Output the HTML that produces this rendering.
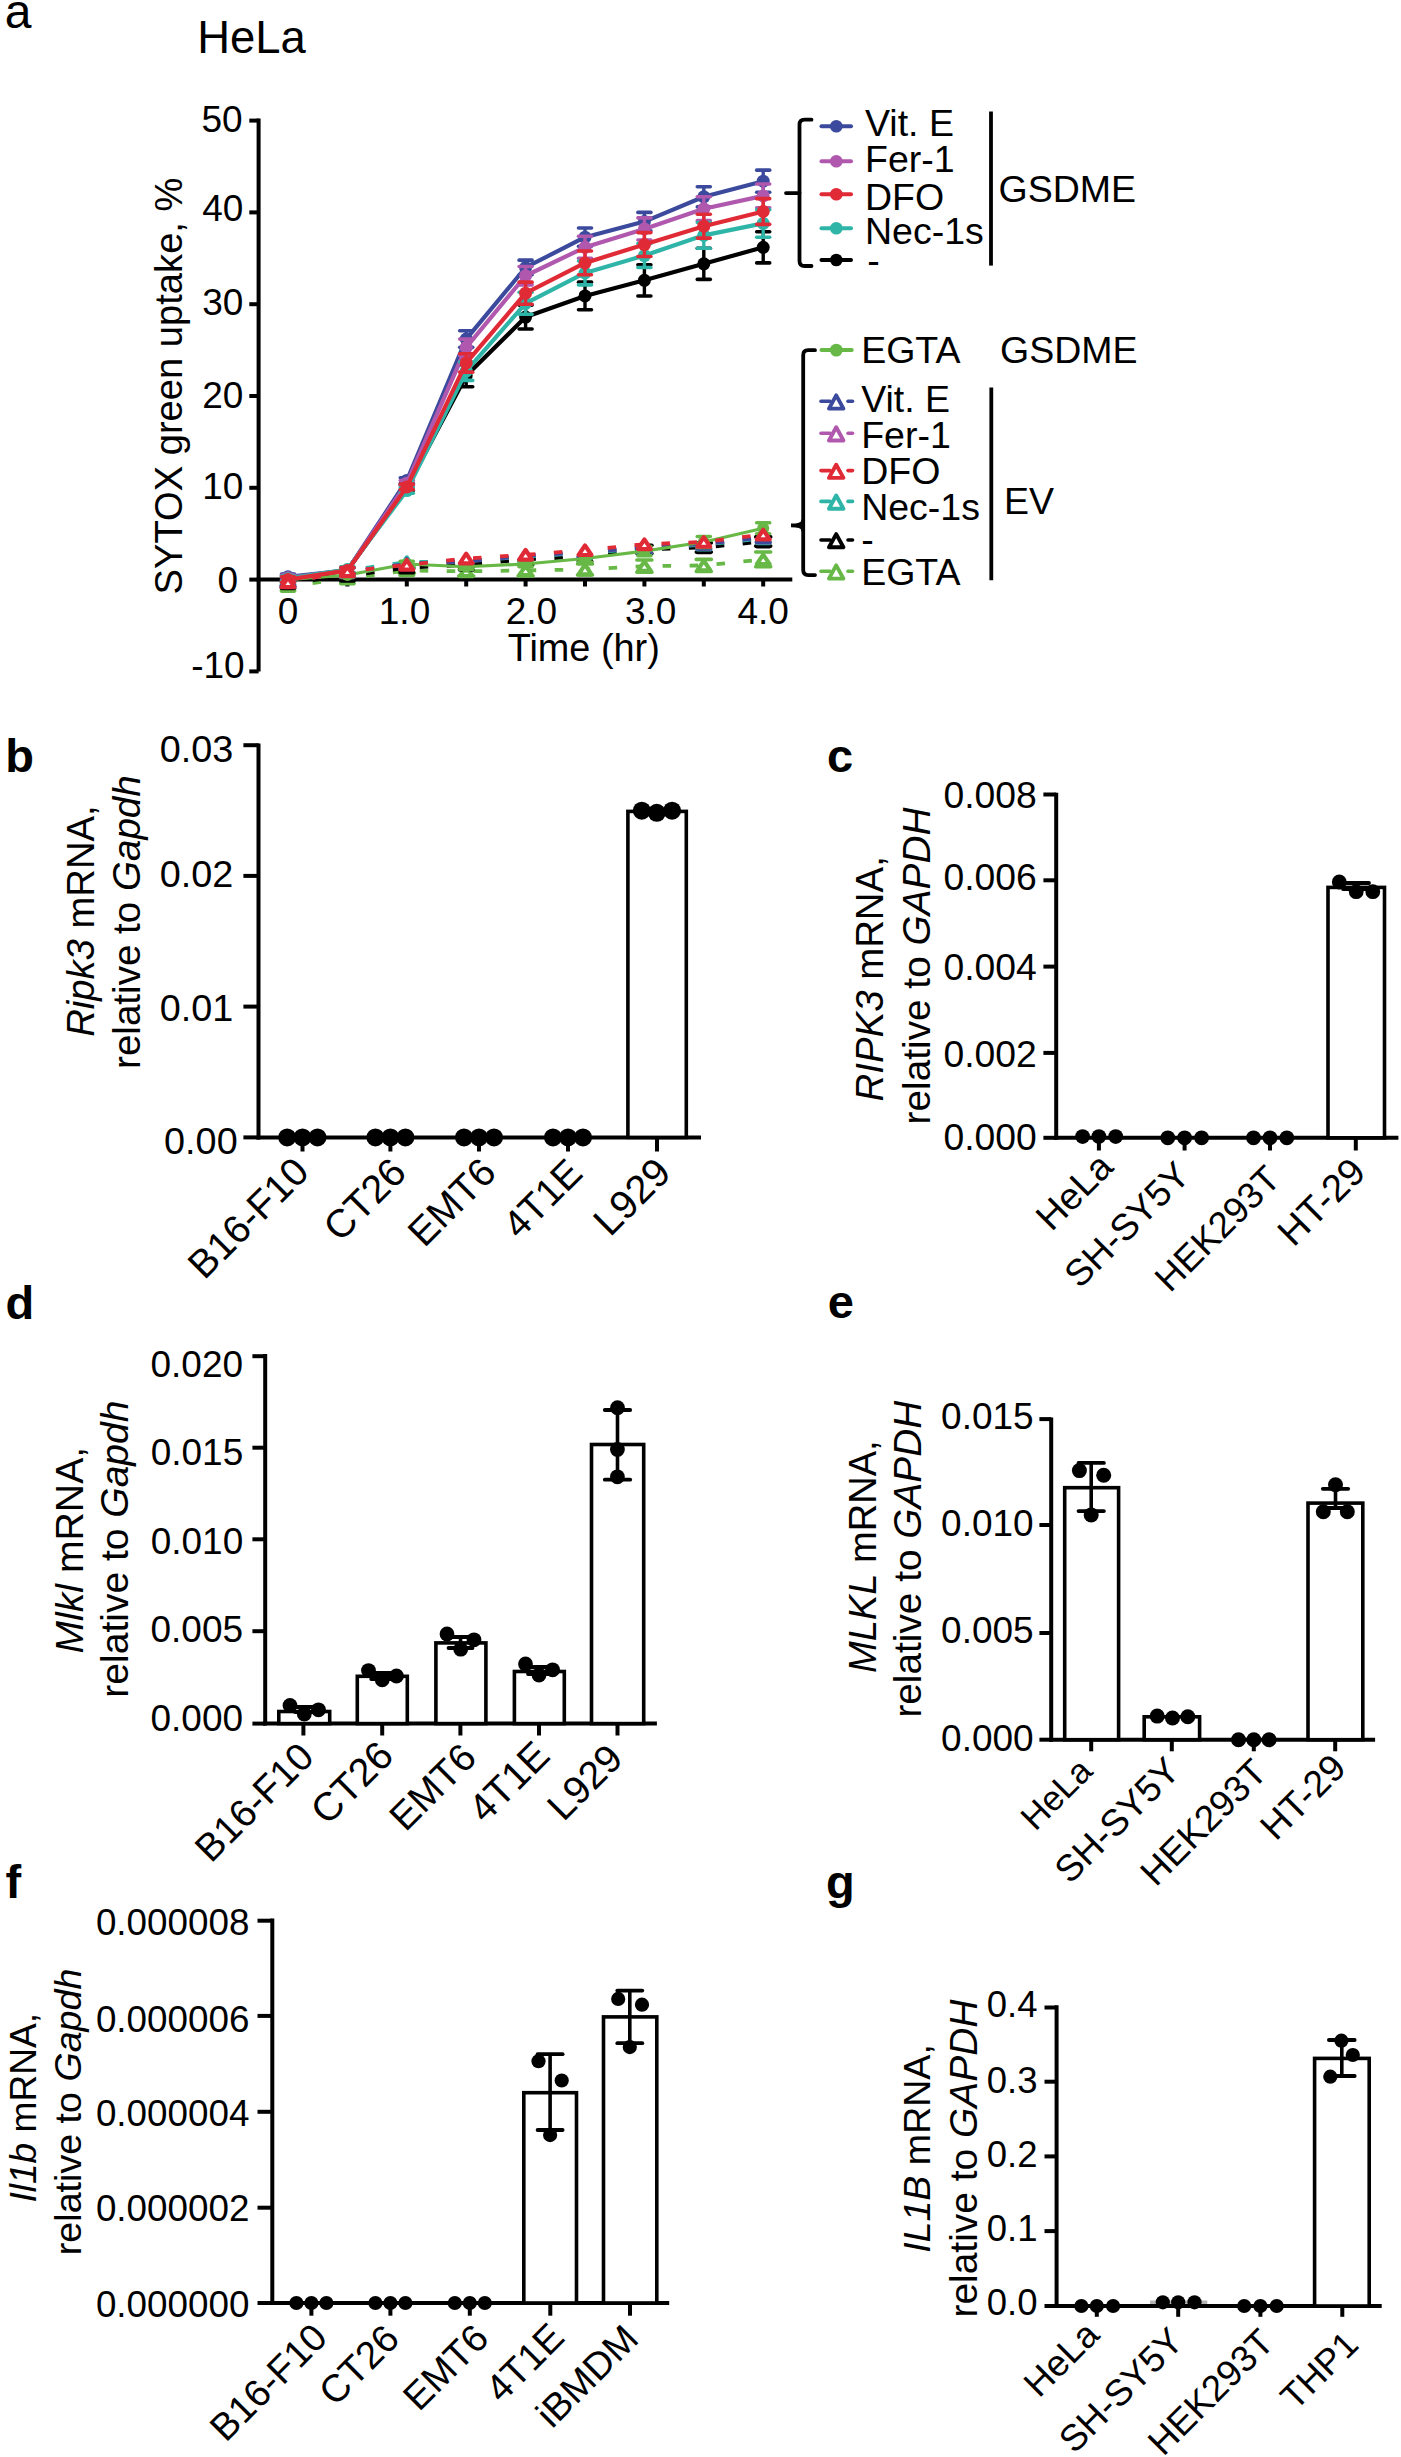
<!DOCTYPE html>
<html><head><meta charset="utf-8"><style>
html,body{margin:0;padding:0;background:#fff;}
svg{display:block;}
text{font-family:"Liberation Sans", sans-serif;}
</style></head><body>
<svg width="1401" height="2457" viewBox="0 0 1401 2457" font-family='"Liberation Sans", sans-serif'>
<rect width="1401" height="2457" fill="#fff"/>
<text id="La" x="4.75" y="28.25" font-size="48">a</text>
<text id="HeLa" x="197.25" y="53.25" font-size="45.41">HeLa</text>
<line x1="258.6" y1="118.6" x2="258.6" y2="671.6" stroke="#000" stroke-width="4.0" stroke-linecap="butt"/>
<line x1="249.3" y1="120.6" x2="258.6" y2="120.6" stroke="#000" stroke-width="4.0" stroke-linecap="butt"/>
<line x1="249.3" y1="212.4" x2="258.6" y2="212.4" stroke="#000" stroke-width="4.0" stroke-linecap="butt"/>
<line x1="249.3" y1="304.2" x2="258.6" y2="304.2" stroke="#000" stroke-width="4.0" stroke-linecap="butt"/>
<line x1="249.3" y1="396" x2="258.6" y2="396" stroke="#000" stroke-width="4.0" stroke-linecap="butt"/>
<line x1="249.3" y1="487.8" x2="258.6" y2="487.8" stroke="#000" stroke-width="4.0" stroke-linecap="butt"/>
<line x1="249.3" y1="579.6" x2="258.6" y2="579.6" stroke="#000" stroke-width="4.0" stroke-linecap="butt"/>
<line x1="249.3" y1="671.4" x2="258.6" y2="671.4" stroke="#000" stroke-width="4.0" stroke-linecap="butt"/>
<text id="ay50" x="242.7" y="132.4" font-size="37" text-anchor="end">50</text>
<text id="ay40" x="243.3" y="220.5" font-size="37" text-anchor="end">40</text>
<text id="ay30" x="243.3" y="314.7" font-size="37" text-anchor="end">30</text>
<text id="ay20" x="243.3" y="407.9" font-size="37" text-anchor="end">20</text>
<text id="ay10" x="243.3" y="498.5" font-size="37" text-anchor="end">10</text>
<text id="ay0" x="238.1" y="592.7" font-size="37" text-anchor="end">0</text>
<text id="ay-10" x="244.7" y="677.9" font-size="37" text-anchor="end">-10</text>
<line x1="256.6" y1="579.6" x2="792.3" y2="579.6" stroke="#000" stroke-width="4.0" stroke-linecap="butt"/>
<line x1="288" y1="579.6" x2="288" y2="586.5" stroke="#000" stroke-width="4.0" stroke-linecap="butt"/>
<line x1="347.4" y1="579.6" x2="347.4" y2="586.5" stroke="#000" stroke-width="4.0" stroke-linecap="butt"/>
<line x1="406.8" y1="579.6" x2="406.8" y2="586.5" stroke="#000" stroke-width="4.0" stroke-linecap="butt"/>
<line x1="466.2" y1="579.6" x2="466.2" y2="586.5" stroke="#000" stroke-width="4.0" stroke-linecap="butt"/>
<line x1="525.6" y1="579.6" x2="525.6" y2="586.5" stroke="#000" stroke-width="4.0" stroke-linecap="butt"/>
<line x1="585" y1="579.6" x2="585" y2="586.5" stroke="#000" stroke-width="4.0" stroke-linecap="butt"/>
<line x1="644.4" y1="579.6" x2="644.4" y2="586.5" stroke="#000" stroke-width="4.0" stroke-linecap="butt"/>
<line x1="703.8" y1="579.6" x2="703.8" y2="586.5" stroke="#000" stroke-width="4.0" stroke-linecap="butt"/>
<line x1="763.2" y1="579.6" x2="763.2" y2="586.5" stroke="#000" stroke-width="4.0" stroke-linecap="butt"/>
<text id="ax0" x="288" y="624" font-size="37" text-anchor="middle">0</text>
<text id="ax1.0" x="404.5" y="624" font-size="37" text-anchor="middle">1.0</text>
<text id="ax2.0" x="531.4" y="624" font-size="37" text-anchor="middle">2.0</text>
<text id="ax3.0" x="650.6" y="624" font-size="37" text-anchor="middle">3.0</text>
<text id="ax4.0" x="763.2" y="624" font-size="37" text-anchor="middle">4.0</text>
<text id="atime" x="583.75" y="661.25" font-size="37.88" text-anchor="middle">Time (hr)</text>
<text id="aytitle" x="0" y="0" font-size="38.15" text-anchor="middle" transform="translate(181.5,386) rotate(-90)">SYTOX green uptake, %</text>
<polyline points="288,586.03 347.4,578.68 406.8,570.42 466.2,571.34 525.6,570.42 585,569.5 644.4,566.11 703.8,565.46 763.2,559.4" fill="none" stroke="#67b846" stroke-width="3.8" stroke-dasharray="8.5,18.5" stroke-dashoffset="2.25"/>
<line x1="406.8" y1="567.67" x2="406.8" y2="573.17" stroke="#67b846" stroke-width="3.4" stroke-linecap="butt"/>
<line x1="399.3" y1="567.67" x2="414.3" y2="567.67" stroke="#67b846" stroke-width="3.6" stroke-linecap="round"/>
<line x1="399.3" y1="573.17" x2="414.3" y2="573.17" stroke="#67b846" stroke-width="3.6" stroke-linecap="round"/>
<line x1="466.2" y1="566.75" x2="466.2" y2="575.93" stroke="#67b846" stroke-width="3.4" stroke-linecap="butt"/>
<line x1="458.7" y1="566.75" x2="473.7" y2="566.75" stroke="#67b846" stroke-width="3.6" stroke-linecap="round"/>
<line x1="458.7" y1="575.93" x2="473.7" y2="575.93" stroke="#67b846" stroke-width="3.6" stroke-linecap="round"/>
<line x1="525.6" y1="564.91" x2="525.6" y2="575.93" stroke="#67b846" stroke-width="3.4" stroke-linecap="butt"/>
<line x1="518.1" y1="564.91" x2="533.1" y2="564.91" stroke="#67b846" stroke-width="3.6" stroke-linecap="round"/>
<line x1="518.1" y1="575.93" x2="533.1" y2="575.93" stroke="#67b846" stroke-width="3.6" stroke-linecap="round"/>
<line x1="585" y1="563.99" x2="585" y2="575.01" stroke="#67b846" stroke-width="3.4" stroke-linecap="butt"/>
<line x1="577.5" y1="563.99" x2="592.5" y2="563.99" stroke="#67b846" stroke-width="3.6" stroke-linecap="round"/>
<line x1="577.5" y1="575.01" x2="592.5" y2="575.01" stroke="#67b846" stroke-width="3.6" stroke-linecap="round"/>
<line x1="644.4" y1="560.05" x2="644.4" y2="572.16" stroke="#67b846" stroke-width="3.4" stroke-linecap="butt"/>
<line x1="636.9" y1="560.05" x2="651.9" y2="560.05" stroke="#67b846" stroke-width="3.6" stroke-linecap="round"/>
<line x1="636.9" y1="572.16" x2="651.9" y2="572.16" stroke="#67b846" stroke-width="3.6" stroke-linecap="round"/>
<line x1="703.8" y1="559.4" x2="703.8" y2="571.52" stroke="#67b846" stroke-width="3.4" stroke-linecap="butt"/>
<line x1="696.3" y1="559.4" x2="711.3" y2="559.4" stroke="#67b846" stroke-width="3.6" stroke-linecap="round"/>
<line x1="696.3" y1="571.52" x2="711.3" y2="571.52" stroke="#67b846" stroke-width="3.6" stroke-linecap="round"/>
<line x1="763.2" y1="552.06" x2="763.2" y2="566.75" stroke="#67b846" stroke-width="3.4" stroke-linecap="butt"/>
<line x1="755.7" y1="552.06" x2="770.7" y2="552.06" stroke="#67b846" stroke-width="3.6" stroke-linecap="round"/>
<line x1="755.7" y1="566.75" x2="770.7" y2="566.75" stroke="#67b846" stroke-width="3.6" stroke-linecap="round"/>
<polygon points="288,581.23 294.4,590.83 281.6,590.83" fill="#fff" stroke="#67b846" stroke-width="4.2" stroke-linejoin="round"/>
<polygon points="347.4,573.88 353.8,583.48 341,583.48" fill="#fff" stroke="#67b846" stroke-width="4.2" stroke-linejoin="round"/>
<polygon points="406.8,565.62 413.2,575.22 400.4,575.22" fill="#fff" stroke="#67b846" stroke-width="4.2" stroke-linejoin="round"/>
<polygon points="466.2,566.54 472.6,576.14 459.8,576.14" fill="#fff" stroke="#67b846" stroke-width="4.2" stroke-linejoin="round"/>
<polygon points="525.6,565.62 532,575.22 519.2,575.22" fill="#fff" stroke="#67b846" stroke-width="4.2" stroke-linejoin="round"/>
<polygon points="585,564.7 591.4,574.3 578.6,574.3" fill="#fff" stroke="#67b846" stroke-width="4.2" stroke-linejoin="round"/>
<polygon points="644.4,561.31 650.8,570.91 638,570.91" fill="#fff" stroke="#67b846" stroke-width="4.2" stroke-linejoin="round"/>
<polygon points="703.8,560.66 710.2,570.26 697.4,570.26" fill="#fff" stroke="#67b846" stroke-width="4.2" stroke-linejoin="round"/>
<polygon points="763.2,554.6 769.6,564.2 756.8,564.2" fill="#fff" stroke="#67b846" stroke-width="4.2" stroke-linejoin="round"/>
<polyline points="288,583.27 347.4,575.93 406.8,567.67 466.2,564.91 525.6,559.4 585,556.65 644.4,549.31 703.8,547.47 763.2,541.5" fill="none" stroke="#000" stroke-width="3.8" stroke-dasharray="8.5,18.5" stroke-dashoffset="2.25"/>
<line x1="644.4" y1="545.18" x2="644.4" y2="553.44" stroke="#000" stroke-width="3.4" stroke-linecap="butt"/>
<line x1="636.9" y1="545.18" x2="651.9" y2="545.18" stroke="#000" stroke-width="3.6" stroke-linecap="round"/>
<line x1="636.9" y1="553.44" x2="651.9" y2="553.44" stroke="#000" stroke-width="3.6" stroke-linecap="round"/>
<line x1="703.8" y1="542.88" x2="703.8" y2="552.06" stroke="#000" stroke-width="3.4" stroke-linecap="butt"/>
<line x1="696.3" y1="542.88" x2="711.3" y2="542.88" stroke="#000" stroke-width="3.6" stroke-linecap="round"/>
<line x1="696.3" y1="552.06" x2="711.3" y2="552.06" stroke="#000" stroke-width="3.6" stroke-linecap="round"/>
<line x1="763.2" y1="536.91" x2="763.2" y2="546.09" stroke="#000" stroke-width="3.4" stroke-linecap="butt"/>
<line x1="755.7" y1="536.91" x2="770.7" y2="536.91" stroke="#000" stroke-width="3.6" stroke-linecap="round"/>
<line x1="755.7" y1="546.09" x2="770.7" y2="546.09" stroke="#000" stroke-width="3.6" stroke-linecap="round"/>
<polygon points="288,578.47 294.4,588.07 281.6,588.07" fill="#fff" stroke="#000" stroke-width="4.2" stroke-linejoin="round"/>
<polygon points="347.4,571.13 353.8,580.73 341,580.73" fill="#fff" stroke="#000" stroke-width="4.2" stroke-linejoin="round"/>
<polygon points="406.8,562.87 413.2,572.47 400.4,572.47" fill="#fff" stroke="#000" stroke-width="4.2" stroke-linejoin="round"/>
<polygon points="466.2,560.11 472.6,569.71 459.8,569.71" fill="#fff" stroke="#000" stroke-width="4.2" stroke-linejoin="round"/>
<polygon points="525.6,554.6 532,564.2 519.2,564.2" fill="#fff" stroke="#000" stroke-width="4.2" stroke-linejoin="round"/>
<polygon points="585,551.85 591.4,561.45 578.6,561.45" fill="#fff" stroke="#000" stroke-width="4.2" stroke-linejoin="round"/>
<polygon points="644.4,544.51 650.8,554.11 638,554.11" fill="#fff" stroke="#000" stroke-width="4.2" stroke-linejoin="round"/>
<polygon points="703.8,542.67 710.2,552.27 697.4,552.27" fill="#fff" stroke="#000" stroke-width="4.2" stroke-linejoin="round"/>
<polygon points="763.2,536.7 769.6,546.3 756.8,546.3" fill="#fff" stroke="#000" stroke-width="4.2" stroke-linejoin="round"/>
<polyline points="288,579.6 347.4,570.42 406.8,562.16 466.2,561.24 525.6,556.65 585,552.98 644.4,548.39 703.8,544.72 763.2,538.29" fill="none" stroke="#2fb5a8" stroke-width="3.8" stroke-dasharray="8.5,18.5" stroke-dashoffset="2.25"/>
<polygon points="288,574.8 294.4,584.4 281.6,584.4" fill="#fff" stroke="#2fb5a8" stroke-width="4.2" stroke-linejoin="round"/>
<polygon points="347.4,565.62 353.8,575.22 341,575.22" fill="#fff" stroke="#2fb5a8" stroke-width="4.2" stroke-linejoin="round"/>
<polygon points="406.8,557.36 413.2,566.96 400.4,566.96" fill="#fff" stroke="#2fb5a8" stroke-width="4.2" stroke-linejoin="round"/>
<polygon points="466.2,556.44 472.6,566.04 459.8,566.04" fill="#fff" stroke="#2fb5a8" stroke-width="4.2" stroke-linejoin="round"/>
<polygon points="525.6,551.85 532,561.45 519.2,561.45" fill="#fff" stroke="#2fb5a8" stroke-width="4.2" stroke-linejoin="round"/>
<polygon points="585,548.18 591.4,557.78 578.6,557.78" fill="#fff" stroke="#2fb5a8" stroke-width="4.2" stroke-linejoin="round"/>
<polygon points="644.4,543.59 650.8,553.19 638,553.19" fill="#fff" stroke="#2fb5a8" stroke-width="4.2" stroke-linejoin="round"/>
<polygon points="703.8,539.92 710.2,549.52 697.4,549.52" fill="#fff" stroke="#2fb5a8" stroke-width="4.2" stroke-linejoin="round"/>
<polygon points="763.2,533.49 769.6,543.09 756.8,543.09" fill="#fff" stroke="#2fb5a8" stroke-width="4.2" stroke-linejoin="round"/>
<polyline points="288,581.44 347.4,572.26 406.8,563.99 466.2,561.24 525.6,555.73 585,552.06 644.4,547.47 703.8,543.8 763.2,537.37" fill="none" stroke="#b058ad" stroke-width="3.8" stroke-dasharray="8.5,18.5" stroke-dashoffset="2.25"/>
<polygon points="288,576.64 294.4,586.24 281.6,586.24" fill="#fff" stroke="#b058ad" stroke-width="4.2" stroke-linejoin="round"/>
<polygon points="347.4,567.46 353.8,577.06 341,577.06" fill="#fff" stroke="#b058ad" stroke-width="4.2" stroke-linejoin="round"/>
<polygon points="406.8,559.19 413.2,568.79 400.4,568.79" fill="#fff" stroke="#b058ad" stroke-width="4.2" stroke-linejoin="round"/>
<polygon points="466.2,556.44 472.6,566.04 459.8,566.04" fill="#fff" stroke="#b058ad" stroke-width="4.2" stroke-linejoin="round"/>
<polygon points="525.6,550.93 532,560.53 519.2,560.53" fill="#fff" stroke="#b058ad" stroke-width="4.2" stroke-linejoin="round"/>
<polygon points="585,547.26 591.4,556.86 578.6,556.86" fill="#fff" stroke="#b058ad" stroke-width="4.2" stroke-linejoin="round"/>
<polygon points="644.4,542.67 650.8,552.27 638,552.27" fill="#fff" stroke="#b058ad" stroke-width="4.2" stroke-linejoin="round"/>
<polygon points="703.8,539 710.2,548.6 697.4,548.6" fill="#fff" stroke="#b058ad" stroke-width="4.2" stroke-linejoin="round"/>
<polygon points="763.2,532.57 769.6,542.17 756.8,542.17" fill="#fff" stroke="#b058ad" stroke-width="4.2" stroke-linejoin="round"/>
<polyline points="288,581.44 347.4,572.26 406.8,563.99 466.2,561.24 525.6,555.73 585,552.06 644.4,547.47 703.8,543.8 763.2,537.37" fill="none" stroke="#3b4a9c" stroke-width="3.8" stroke-dasharray="8.5,18.5" stroke-dashoffset="2.25"/>
<polygon points="288,576.64 294.4,586.24 281.6,586.24" fill="#fff" stroke="#3b4a9c" stroke-width="4.2" stroke-linejoin="round"/>
<polygon points="347.4,567.46 353.8,577.06 341,577.06" fill="#fff" stroke="#3b4a9c" stroke-width="4.2" stroke-linejoin="round"/>
<polygon points="406.8,559.19 413.2,568.79 400.4,568.79" fill="#fff" stroke="#3b4a9c" stroke-width="4.2" stroke-linejoin="round"/>
<polygon points="466.2,556.44 472.6,566.04 459.8,566.04" fill="#fff" stroke="#3b4a9c" stroke-width="4.2" stroke-linejoin="round"/>
<polygon points="525.6,550.93 532,560.53 519.2,560.53" fill="#fff" stroke="#3b4a9c" stroke-width="4.2" stroke-linejoin="round"/>
<polygon points="585,547.26 591.4,556.86 578.6,556.86" fill="#fff" stroke="#3b4a9c" stroke-width="4.2" stroke-linejoin="round"/>
<polygon points="644.4,542.67 650.8,552.27 638,552.27" fill="#fff" stroke="#3b4a9c" stroke-width="4.2" stroke-linejoin="round"/>
<polygon points="703.8,539 710.2,548.6 697.4,548.6" fill="#fff" stroke="#3b4a9c" stroke-width="4.2" stroke-linejoin="round"/>
<polygon points="763.2,532.57 769.6,542.17 756.8,542.17" fill="#fff" stroke="#3b4a9c" stroke-width="4.2" stroke-linejoin="round"/>
<polyline points="288,579.6 347.4,575.01 406.8,563.99 466.2,566.75 525.6,563.99 585,558.49 644.4,551.14 703.8,541.96 763.2,528.19" fill="none" stroke="#67b846" stroke-width="3.2" stroke-linejoin="round" stroke-linecap="butt"/>
<line x1="288" y1="577.76" x2="288" y2="581.44" stroke="#67b846" stroke-width="3.4" stroke-linecap="butt"/>
<line x1="281.5" y1="577.76" x2="294.5" y2="577.76" stroke="#67b846" stroke-width="3.6" stroke-linecap="round"/>
<line x1="281.5" y1="581.44" x2="294.5" y2="581.44" stroke="#67b846" stroke-width="3.6" stroke-linecap="round"/>
<line x1="347.4" y1="573.17" x2="347.4" y2="576.85" stroke="#67b846" stroke-width="3.4" stroke-linecap="butt"/>
<line x1="340.9" y1="573.17" x2="353.9" y2="573.17" stroke="#67b846" stroke-width="3.6" stroke-linecap="round"/>
<line x1="340.9" y1="576.85" x2="353.9" y2="576.85" stroke="#67b846" stroke-width="3.6" stroke-linecap="round"/>
<line x1="406.8" y1="561.24" x2="406.8" y2="566.75" stroke="#67b846" stroke-width="3.4" stroke-linecap="butt"/>
<line x1="400.3" y1="561.24" x2="413.3" y2="561.24" stroke="#67b846" stroke-width="3.6" stroke-linecap="round"/>
<line x1="400.3" y1="566.75" x2="413.3" y2="566.75" stroke="#67b846" stroke-width="3.6" stroke-linecap="round"/>
<line x1="466.2" y1="563.99" x2="466.2" y2="569.5" stroke="#67b846" stroke-width="3.4" stroke-linecap="butt"/>
<line x1="459.7" y1="563.99" x2="472.7" y2="563.99" stroke="#67b846" stroke-width="3.6" stroke-linecap="round"/>
<line x1="459.7" y1="569.5" x2="472.7" y2="569.5" stroke="#67b846" stroke-width="3.6" stroke-linecap="round"/>
<line x1="525.6" y1="561.24" x2="525.6" y2="566.75" stroke="#67b846" stroke-width="3.4" stroke-linecap="butt"/>
<line x1="519.1" y1="561.24" x2="532.1" y2="561.24" stroke="#67b846" stroke-width="3.6" stroke-linecap="round"/>
<line x1="519.1" y1="566.75" x2="532.1" y2="566.75" stroke="#67b846" stroke-width="3.6" stroke-linecap="round"/>
<line x1="585" y1="554.81" x2="585" y2="562.16" stroke="#67b846" stroke-width="3.4" stroke-linecap="butt"/>
<line x1="578.5" y1="554.81" x2="591.5" y2="554.81" stroke="#67b846" stroke-width="3.6" stroke-linecap="round"/>
<line x1="578.5" y1="562.16" x2="591.5" y2="562.16" stroke="#67b846" stroke-width="3.6" stroke-linecap="round"/>
<line x1="644.4" y1="546.55" x2="644.4" y2="555.73" stroke="#67b846" stroke-width="3.4" stroke-linecap="butt"/>
<line x1="637.9" y1="546.55" x2="650.9" y2="546.55" stroke="#67b846" stroke-width="3.6" stroke-linecap="round"/>
<line x1="637.9" y1="555.73" x2="650.9" y2="555.73" stroke="#67b846" stroke-width="3.6" stroke-linecap="round"/>
<line x1="703.8" y1="536.45" x2="703.8" y2="547.47" stroke="#67b846" stroke-width="3.4" stroke-linecap="butt"/>
<line x1="697.3" y1="536.45" x2="710.3" y2="536.45" stroke="#67b846" stroke-width="3.6" stroke-linecap="round"/>
<line x1="697.3" y1="547.47" x2="710.3" y2="547.47" stroke="#67b846" stroke-width="3.6" stroke-linecap="round"/>
<line x1="763.2" y1="522.68" x2="763.2" y2="533.7" stroke="#67b846" stroke-width="3.4" stroke-linecap="butt"/>
<line x1="756.7" y1="522.68" x2="769.7" y2="522.68" stroke="#67b846" stroke-width="3.6" stroke-linecap="round"/>
<line x1="756.7" y1="533.7" x2="769.7" y2="533.7" stroke="#67b846" stroke-width="3.6" stroke-linecap="round"/>
<circle cx="288" cy="579.6" r="6" fill="#67b846"/>
<circle cx="347.4" cy="575.01" r="6" fill="#67b846"/>
<circle cx="406.8" cy="563.99" r="6" fill="#67b846"/>
<circle cx="466.2" cy="566.75" r="6" fill="#67b846"/>
<circle cx="525.6" cy="563.99" r="6" fill="#67b846"/>
<circle cx="585" cy="558.49" r="6" fill="#67b846"/>
<circle cx="644.4" cy="551.14" r="6" fill="#67b846"/>
<circle cx="703.8" cy="541.96" r="6" fill="#67b846"/>
<circle cx="763.2" cy="528.19" r="6" fill="#67b846"/>
<polyline points="288,578.68 347.4,570.42 406.8,487.8 466.2,375.8 525.6,317.05 585,295.94 644.4,280.33 703.8,263.81 763.2,247.28" fill="none" stroke="#000" stroke-width="4.2" stroke-linejoin="round" stroke-linecap="butt"/>
<line x1="288" y1="575.93" x2="288" y2="581.44" stroke="#000" stroke-width="3.4" stroke-linecap="butt"/>
<line x1="281.5" y1="575.93" x2="294.5" y2="575.93" stroke="#000" stroke-width="3.6" stroke-linecap="round"/>
<line x1="281.5" y1="581.44" x2="294.5" y2="581.44" stroke="#000" stroke-width="3.6" stroke-linecap="round"/>
<line x1="347.4" y1="567.67" x2="347.4" y2="573.17" stroke="#000" stroke-width="3.4" stroke-linecap="butt"/>
<line x1="340.9" y1="567.67" x2="353.9" y2="567.67" stroke="#000" stroke-width="3.6" stroke-linecap="round"/>
<line x1="340.9" y1="573.17" x2="353.9" y2="573.17" stroke="#000" stroke-width="3.6" stroke-linecap="round"/>
<line x1="406.8" y1="485.05" x2="406.8" y2="490.55" stroke="#000" stroke-width="3.4" stroke-linecap="butt"/>
<line x1="400.3" y1="485.05" x2="413.3" y2="485.05" stroke="#000" stroke-width="3.6" stroke-linecap="round"/>
<line x1="400.3" y1="490.55" x2="413.3" y2="490.55" stroke="#000" stroke-width="3.6" stroke-linecap="round"/>
<line x1="466.2" y1="364.79" x2="466.2" y2="386.82" stroke="#000" stroke-width="3.4" stroke-linecap="butt"/>
<line x1="459.7" y1="364.79" x2="472.7" y2="364.79" stroke="#000" stroke-width="3.6" stroke-linecap="round"/>
<line x1="459.7" y1="386.82" x2="472.7" y2="386.82" stroke="#000" stroke-width="3.6" stroke-linecap="round"/>
<line x1="525.6" y1="305.12" x2="525.6" y2="328.99" stroke="#000" stroke-width="3.4" stroke-linecap="butt"/>
<line x1="519.1" y1="305.12" x2="532.1" y2="305.12" stroke="#000" stroke-width="3.6" stroke-linecap="round"/>
<line x1="519.1" y1="328.99" x2="532.1" y2="328.99" stroke="#000" stroke-width="3.6" stroke-linecap="round"/>
<line x1="585" y1="282.17" x2="585" y2="309.71" stroke="#000" stroke-width="3.4" stroke-linecap="butt"/>
<line x1="578.5" y1="282.17" x2="591.5" y2="282.17" stroke="#000" stroke-width="3.6" stroke-linecap="round"/>
<line x1="578.5" y1="309.71" x2="591.5" y2="309.71" stroke="#000" stroke-width="3.6" stroke-linecap="round"/>
<line x1="644.4" y1="264.73" x2="644.4" y2="295.94" stroke="#000" stroke-width="3.4" stroke-linecap="butt"/>
<line x1="637.9" y1="264.73" x2="650.9" y2="264.73" stroke="#000" stroke-width="3.6" stroke-linecap="round"/>
<line x1="637.9" y1="295.94" x2="650.9" y2="295.94" stroke="#000" stroke-width="3.6" stroke-linecap="round"/>
<line x1="703.8" y1="248.2" x2="703.8" y2="279.41" stroke="#000" stroke-width="3.4" stroke-linecap="butt"/>
<line x1="697.3" y1="248.2" x2="710.3" y2="248.2" stroke="#000" stroke-width="3.6" stroke-linecap="round"/>
<line x1="697.3" y1="279.41" x2="710.3" y2="279.41" stroke="#000" stroke-width="3.6" stroke-linecap="round"/>
<line x1="763.2" y1="231.68" x2="763.2" y2="262.89" stroke="#000" stroke-width="3.4" stroke-linecap="butt"/>
<line x1="756.7" y1="231.68" x2="769.7" y2="231.68" stroke="#000" stroke-width="3.6" stroke-linecap="round"/>
<line x1="756.7" y1="262.89" x2="769.7" y2="262.89" stroke="#000" stroke-width="3.6" stroke-linecap="round"/>
<circle cx="288" cy="578.68" r="6.5" fill="#000"/>
<circle cx="347.4" cy="570.42" r="6.5" fill="#000"/>
<circle cx="406.8" cy="487.8" r="6.5" fill="#000"/>
<circle cx="466.2" cy="375.8" r="6.5" fill="#000"/>
<circle cx="525.6" cy="317.05" r="6.5" fill="#000"/>
<circle cx="585" cy="295.94" r="6.5" fill="#000"/>
<circle cx="644.4" cy="280.33" r="6.5" fill="#000"/>
<circle cx="703.8" cy="263.81" r="6.5" fill="#000"/>
<circle cx="763.2" cy="247.28" r="6.5" fill="#000"/>
<polyline points="288,576.85 347.4,570.42 406.8,480.46 466.2,339.08 525.6,267.48 585,237.19 644.4,221.58 703.8,196.79 763.2,181.19" fill="none" stroke="#3b4a9c" stroke-width="4.2" stroke-linejoin="round" stroke-linecap="butt"/>
<line x1="288" y1="574.09" x2="288" y2="579.6" stroke="#3b4a9c" stroke-width="3.4" stroke-linecap="butt"/>
<line x1="281.5" y1="574.09" x2="294.5" y2="574.09" stroke="#3b4a9c" stroke-width="3.6" stroke-linecap="round"/>
<line x1="281.5" y1="579.6" x2="294.5" y2="579.6" stroke="#3b4a9c" stroke-width="3.6" stroke-linecap="round"/>
<line x1="347.4" y1="567.67" x2="347.4" y2="573.17" stroke="#3b4a9c" stroke-width="3.4" stroke-linecap="butt"/>
<line x1="340.9" y1="567.67" x2="353.9" y2="567.67" stroke="#3b4a9c" stroke-width="3.6" stroke-linecap="round"/>
<line x1="340.9" y1="573.17" x2="353.9" y2="573.17" stroke="#3b4a9c" stroke-width="3.6" stroke-linecap="round"/>
<line x1="406.8" y1="477.7" x2="406.8" y2="483.21" stroke="#3b4a9c" stroke-width="3.4" stroke-linecap="butt"/>
<line x1="400.3" y1="477.7" x2="413.3" y2="477.7" stroke="#3b4a9c" stroke-width="3.6" stroke-linecap="round"/>
<line x1="400.3" y1="483.21" x2="413.3" y2="483.21" stroke="#3b4a9c" stroke-width="3.6" stroke-linecap="round"/>
<line x1="466.2" y1="330.82" x2="466.2" y2="347.35" stroke="#3b4a9c" stroke-width="3.4" stroke-linecap="butt"/>
<line x1="459.7" y1="330.82" x2="472.7" y2="330.82" stroke="#3b4a9c" stroke-width="3.6" stroke-linecap="round"/>
<line x1="459.7" y1="347.35" x2="472.7" y2="347.35" stroke="#3b4a9c" stroke-width="3.6" stroke-linecap="round"/>
<line x1="525.6" y1="260.14" x2="525.6" y2="274.82" stroke="#3b4a9c" stroke-width="3.4" stroke-linecap="butt"/>
<line x1="519.1" y1="260.14" x2="532.1" y2="260.14" stroke="#3b4a9c" stroke-width="3.6" stroke-linecap="round"/>
<line x1="519.1" y1="274.82" x2="532.1" y2="274.82" stroke="#3b4a9c" stroke-width="3.6" stroke-linecap="round"/>
<line x1="585" y1="228.01" x2="585" y2="246.37" stroke="#3b4a9c" stroke-width="3.4" stroke-linecap="butt"/>
<line x1="578.5" y1="228.01" x2="591.5" y2="228.01" stroke="#3b4a9c" stroke-width="3.6" stroke-linecap="round"/>
<line x1="578.5" y1="246.37" x2="591.5" y2="246.37" stroke="#3b4a9c" stroke-width="3.6" stroke-linecap="round"/>
<line x1="644.4" y1="212.4" x2="644.4" y2="230.76" stroke="#3b4a9c" stroke-width="3.4" stroke-linecap="butt"/>
<line x1="637.9" y1="212.4" x2="650.9" y2="212.4" stroke="#3b4a9c" stroke-width="3.6" stroke-linecap="round"/>
<line x1="637.9" y1="230.76" x2="650.9" y2="230.76" stroke="#3b4a9c" stroke-width="3.6" stroke-linecap="round"/>
<line x1="703.8" y1="186.7" x2="703.8" y2="206.89" stroke="#3b4a9c" stroke-width="3.4" stroke-linecap="butt"/>
<line x1="697.3" y1="186.7" x2="710.3" y2="186.7" stroke="#3b4a9c" stroke-width="3.6" stroke-linecap="round"/>
<line x1="697.3" y1="206.89" x2="710.3" y2="206.89" stroke="#3b4a9c" stroke-width="3.6" stroke-linecap="round"/>
<line x1="763.2" y1="170.17" x2="763.2" y2="192.2" stroke="#3b4a9c" stroke-width="3.4" stroke-linecap="butt"/>
<line x1="756.7" y1="170.17" x2="769.7" y2="170.17" stroke="#3b4a9c" stroke-width="3.6" stroke-linecap="round"/>
<line x1="756.7" y1="192.2" x2="769.7" y2="192.2" stroke="#3b4a9c" stroke-width="3.6" stroke-linecap="round"/>
<circle cx="288" cy="576.85" r="6.5" fill="#3b4a9c"/>
<circle cx="347.4" cy="570.42" r="6.5" fill="#3b4a9c"/>
<circle cx="406.8" cy="480.46" r="6.5" fill="#3b4a9c"/>
<circle cx="466.2" cy="339.08" r="6.5" fill="#3b4a9c"/>
<circle cx="525.6" cy="267.48" r="6.5" fill="#3b4a9c"/>
<circle cx="585" cy="237.19" r="6.5" fill="#3b4a9c"/>
<circle cx="644.4" cy="221.58" r="6.5" fill="#3b4a9c"/>
<circle cx="703.8" cy="196.79" r="6.5" fill="#3b4a9c"/>
<circle cx="763.2" cy="181.19" r="6.5" fill="#3b4a9c"/>
<polyline points="288,577.76 347.4,570.42 406.8,483.21 466.2,347.35 525.6,275.74 585,247.28 644.4,228.92 703.8,208.73 763.2,195.88" fill="none" stroke="#b058ad" stroke-width="4.2" stroke-linejoin="round" stroke-linecap="butt"/>
<line x1="288" y1="575.01" x2="288" y2="580.52" stroke="#b058ad" stroke-width="3.4" stroke-linecap="butt"/>
<line x1="281.5" y1="575.01" x2="294.5" y2="575.01" stroke="#b058ad" stroke-width="3.6" stroke-linecap="round"/>
<line x1="281.5" y1="580.52" x2="294.5" y2="580.52" stroke="#b058ad" stroke-width="3.6" stroke-linecap="round"/>
<line x1="347.4" y1="567.67" x2="347.4" y2="573.17" stroke="#b058ad" stroke-width="3.4" stroke-linecap="butt"/>
<line x1="340.9" y1="567.67" x2="353.9" y2="567.67" stroke="#b058ad" stroke-width="3.6" stroke-linecap="round"/>
<line x1="340.9" y1="573.17" x2="353.9" y2="573.17" stroke="#b058ad" stroke-width="3.6" stroke-linecap="round"/>
<line x1="406.8" y1="480.46" x2="406.8" y2="485.96" stroke="#b058ad" stroke-width="3.4" stroke-linecap="butt"/>
<line x1="400.3" y1="480.46" x2="413.3" y2="480.46" stroke="#b058ad" stroke-width="3.6" stroke-linecap="round"/>
<line x1="400.3" y1="485.96" x2="413.3" y2="485.96" stroke="#b058ad" stroke-width="3.6" stroke-linecap="round"/>
<line x1="466.2" y1="339.08" x2="466.2" y2="355.61" stroke="#b058ad" stroke-width="3.4" stroke-linecap="butt"/>
<line x1="459.7" y1="339.08" x2="472.7" y2="339.08" stroke="#b058ad" stroke-width="3.6" stroke-linecap="round"/>
<line x1="459.7" y1="355.61" x2="472.7" y2="355.61" stroke="#b058ad" stroke-width="3.6" stroke-linecap="round"/>
<line x1="525.6" y1="266.56" x2="525.6" y2="284.92" stroke="#b058ad" stroke-width="3.4" stroke-linecap="butt"/>
<line x1="519.1" y1="266.56" x2="532.1" y2="266.56" stroke="#b058ad" stroke-width="3.6" stroke-linecap="round"/>
<line x1="519.1" y1="284.92" x2="532.1" y2="284.92" stroke="#b058ad" stroke-width="3.6" stroke-linecap="round"/>
<line x1="585" y1="236.27" x2="585" y2="258.3" stroke="#b058ad" stroke-width="3.4" stroke-linecap="butt"/>
<line x1="578.5" y1="236.27" x2="591.5" y2="236.27" stroke="#b058ad" stroke-width="3.6" stroke-linecap="round"/>
<line x1="578.5" y1="258.3" x2="591.5" y2="258.3" stroke="#b058ad" stroke-width="3.6" stroke-linecap="round"/>
<line x1="644.4" y1="217.91" x2="644.4" y2="239.94" stroke="#b058ad" stroke-width="3.4" stroke-linecap="butt"/>
<line x1="637.9" y1="217.91" x2="650.9" y2="217.91" stroke="#b058ad" stroke-width="3.6" stroke-linecap="round"/>
<line x1="637.9" y1="239.94" x2="650.9" y2="239.94" stroke="#b058ad" stroke-width="3.6" stroke-linecap="round"/>
<line x1="703.8" y1="196.79" x2="703.8" y2="220.66" stroke="#b058ad" stroke-width="3.4" stroke-linecap="butt"/>
<line x1="697.3" y1="196.79" x2="710.3" y2="196.79" stroke="#b058ad" stroke-width="3.6" stroke-linecap="round"/>
<line x1="697.3" y1="220.66" x2="710.3" y2="220.66" stroke="#b058ad" stroke-width="3.6" stroke-linecap="round"/>
<line x1="763.2" y1="183.94" x2="763.2" y2="207.81" stroke="#b058ad" stroke-width="3.4" stroke-linecap="butt"/>
<line x1="756.7" y1="183.94" x2="769.7" y2="183.94" stroke="#b058ad" stroke-width="3.6" stroke-linecap="round"/>
<line x1="756.7" y1="207.81" x2="769.7" y2="207.81" stroke="#b058ad" stroke-width="3.6" stroke-linecap="round"/>
<circle cx="288" cy="577.76" r="6.5" fill="#b058ad"/>
<circle cx="347.4" cy="570.42" r="6.5" fill="#b058ad"/>
<circle cx="406.8" cy="483.21" r="6.5" fill="#b058ad"/>
<circle cx="466.2" cy="347.35" r="6.5" fill="#b058ad"/>
<circle cx="525.6" cy="275.74" r="6.5" fill="#b058ad"/>
<circle cx="585" cy="247.28" r="6.5" fill="#b058ad"/>
<circle cx="644.4" cy="228.92" r="6.5" fill="#b058ad"/>
<circle cx="703.8" cy="208.73" r="6.5" fill="#b058ad"/>
<circle cx="763.2" cy="195.88" r="6.5" fill="#b058ad"/>
<polyline points="288,578.68 347.4,569.5 406.8,490.55 466.2,371.21 525.6,303.28 585,272.99 644.4,255.55 703.8,235.35 763.2,223.42" fill="none" stroke="#2fb5a8" stroke-width="4.2" stroke-linejoin="round" stroke-linecap="butt"/>
<line x1="288" y1="575.93" x2="288" y2="581.44" stroke="#2fb5a8" stroke-width="3.4" stroke-linecap="butt"/>
<line x1="281.5" y1="575.93" x2="294.5" y2="575.93" stroke="#2fb5a8" stroke-width="3.6" stroke-linecap="round"/>
<line x1="281.5" y1="581.44" x2="294.5" y2="581.44" stroke="#2fb5a8" stroke-width="3.6" stroke-linecap="round"/>
<line x1="347.4" y1="566.75" x2="347.4" y2="572.26" stroke="#2fb5a8" stroke-width="3.4" stroke-linecap="butt"/>
<line x1="340.9" y1="566.75" x2="353.9" y2="566.75" stroke="#2fb5a8" stroke-width="3.6" stroke-linecap="round"/>
<line x1="340.9" y1="572.26" x2="353.9" y2="572.26" stroke="#2fb5a8" stroke-width="3.6" stroke-linecap="round"/>
<line x1="406.8" y1="487.8" x2="406.8" y2="493.31" stroke="#2fb5a8" stroke-width="3.4" stroke-linecap="butt"/>
<line x1="400.3" y1="487.8" x2="413.3" y2="487.8" stroke="#2fb5a8" stroke-width="3.6" stroke-linecap="round"/>
<line x1="400.3" y1="493.31" x2="413.3" y2="493.31" stroke="#2fb5a8" stroke-width="3.6" stroke-linecap="round"/>
<line x1="466.2" y1="362.03" x2="466.2" y2="380.39" stroke="#2fb5a8" stroke-width="3.4" stroke-linecap="butt"/>
<line x1="459.7" y1="362.03" x2="472.7" y2="362.03" stroke="#2fb5a8" stroke-width="3.6" stroke-linecap="round"/>
<line x1="459.7" y1="380.39" x2="472.7" y2="380.39" stroke="#2fb5a8" stroke-width="3.6" stroke-linecap="round"/>
<line x1="525.6" y1="292.27" x2="525.6" y2="314.3" stroke="#2fb5a8" stroke-width="3.4" stroke-linecap="butt"/>
<line x1="519.1" y1="292.27" x2="532.1" y2="292.27" stroke="#2fb5a8" stroke-width="3.6" stroke-linecap="round"/>
<line x1="519.1" y1="314.3" x2="532.1" y2="314.3" stroke="#2fb5a8" stroke-width="3.6" stroke-linecap="round"/>
<line x1="585" y1="261.05" x2="585" y2="284.92" stroke="#2fb5a8" stroke-width="3.4" stroke-linecap="butt"/>
<line x1="578.5" y1="261.05" x2="591.5" y2="261.05" stroke="#2fb5a8" stroke-width="3.6" stroke-linecap="round"/>
<line x1="578.5" y1="284.92" x2="591.5" y2="284.92" stroke="#2fb5a8" stroke-width="3.6" stroke-linecap="round"/>
<line x1="644.4" y1="243.61" x2="644.4" y2="267.48" stroke="#2fb5a8" stroke-width="3.4" stroke-linecap="butt"/>
<line x1="637.9" y1="243.61" x2="650.9" y2="243.61" stroke="#2fb5a8" stroke-width="3.6" stroke-linecap="round"/>
<line x1="637.9" y1="267.48" x2="650.9" y2="267.48" stroke="#2fb5a8" stroke-width="3.6" stroke-linecap="round"/>
<line x1="703.8" y1="222.5" x2="703.8" y2="248.2" stroke="#2fb5a8" stroke-width="3.4" stroke-linecap="butt"/>
<line x1="697.3" y1="222.5" x2="710.3" y2="222.5" stroke="#2fb5a8" stroke-width="3.6" stroke-linecap="round"/>
<line x1="697.3" y1="248.2" x2="710.3" y2="248.2" stroke="#2fb5a8" stroke-width="3.6" stroke-linecap="round"/>
<line x1="763.2" y1="209.65" x2="763.2" y2="237.19" stroke="#2fb5a8" stroke-width="3.4" stroke-linecap="butt"/>
<line x1="756.7" y1="209.65" x2="769.7" y2="209.65" stroke="#2fb5a8" stroke-width="3.6" stroke-linecap="round"/>
<line x1="756.7" y1="237.19" x2="769.7" y2="237.19" stroke="#2fb5a8" stroke-width="3.6" stroke-linecap="round"/>
<circle cx="288" cy="578.68" r="6.5" fill="#2fb5a8"/>
<circle cx="347.4" cy="569.5" r="6.5" fill="#2fb5a8"/>
<circle cx="406.8" cy="490.55" r="6.5" fill="#2fb5a8"/>
<circle cx="466.2" cy="371.21" r="6.5" fill="#2fb5a8"/>
<circle cx="525.6" cy="303.28" r="6.5" fill="#2fb5a8"/>
<circle cx="585" cy="272.99" r="6.5" fill="#2fb5a8"/>
<circle cx="644.4" cy="255.55" r="6.5" fill="#2fb5a8"/>
<circle cx="703.8" cy="235.35" r="6.5" fill="#2fb5a8"/>
<circle cx="763.2" cy="223.42" r="6.5" fill="#2fb5a8"/>
<polyline points="288,579.6 347.4,570.42 406.8,486.88 466.2,362.95 525.6,293.18 585,262.89 644.4,244.53 703.8,226.17 763.2,211.48" fill="none" stroke="#e02a36" stroke-width="4.2" stroke-linejoin="round" stroke-linecap="butt"/>
<line x1="288" y1="576.85" x2="288" y2="582.35" stroke="#e02a36" stroke-width="3.4" stroke-linecap="butt"/>
<line x1="281.5" y1="576.85" x2="294.5" y2="576.85" stroke="#e02a36" stroke-width="3.6" stroke-linecap="round"/>
<line x1="281.5" y1="582.35" x2="294.5" y2="582.35" stroke="#e02a36" stroke-width="3.6" stroke-linecap="round"/>
<line x1="347.4" y1="567.67" x2="347.4" y2="573.17" stroke="#e02a36" stroke-width="3.4" stroke-linecap="butt"/>
<line x1="340.9" y1="567.67" x2="353.9" y2="567.67" stroke="#e02a36" stroke-width="3.6" stroke-linecap="round"/>
<line x1="340.9" y1="573.17" x2="353.9" y2="573.17" stroke="#e02a36" stroke-width="3.6" stroke-linecap="round"/>
<line x1="406.8" y1="484.13" x2="406.8" y2="489.64" stroke="#e02a36" stroke-width="3.4" stroke-linecap="butt"/>
<line x1="400.3" y1="484.13" x2="413.3" y2="484.13" stroke="#e02a36" stroke-width="3.6" stroke-linecap="round"/>
<line x1="400.3" y1="489.64" x2="413.3" y2="489.64" stroke="#e02a36" stroke-width="3.6" stroke-linecap="round"/>
<line x1="466.2" y1="353.77" x2="466.2" y2="372.13" stroke="#e02a36" stroke-width="3.4" stroke-linecap="butt"/>
<line x1="459.7" y1="353.77" x2="472.7" y2="353.77" stroke="#e02a36" stroke-width="3.6" stroke-linecap="round"/>
<line x1="459.7" y1="372.13" x2="472.7" y2="372.13" stroke="#e02a36" stroke-width="3.6" stroke-linecap="round"/>
<line x1="525.6" y1="282.17" x2="525.6" y2="304.2" stroke="#e02a36" stroke-width="3.4" stroke-linecap="butt"/>
<line x1="519.1" y1="282.17" x2="532.1" y2="282.17" stroke="#e02a36" stroke-width="3.6" stroke-linecap="round"/>
<line x1="519.1" y1="304.2" x2="532.1" y2="304.2" stroke="#e02a36" stroke-width="3.6" stroke-linecap="round"/>
<line x1="585" y1="250.96" x2="585" y2="274.82" stroke="#e02a36" stroke-width="3.4" stroke-linecap="butt"/>
<line x1="578.5" y1="250.96" x2="591.5" y2="250.96" stroke="#e02a36" stroke-width="3.6" stroke-linecap="round"/>
<line x1="578.5" y1="274.82" x2="591.5" y2="274.82" stroke="#e02a36" stroke-width="3.6" stroke-linecap="round"/>
<line x1="644.4" y1="232.6" x2="644.4" y2="256.46" stroke="#e02a36" stroke-width="3.4" stroke-linecap="butt"/>
<line x1="637.9" y1="232.6" x2="650.9" y2="232.6" stroke="#e02a36" stroke-width="3.6" stroke-linecap="round"/>
<line x1="637.9" y1="256.46" x2="650.9" y2="256.46" stroke="#e02a36" stroke-width="3.6" stroke-linecap="round"/>
<line x1="703.8" y1="214.24" x2="703.8" y2="238.1" stroke="#e02a36" stroke-width="3.4" stroke-linecap="butt"/>
<line x1="697.3" y1="214.24" x2="710.3" y2="214.24" stroke="#e02a36" stroke-width="3.6" stroke-linecap="round"/>
<line x1="697.3" y1="238.1" x2="710.3" y2="238.1" stroke="#e02a36" stroke-width="3.6" stroke-linecap="round"/>
<line x1="763.2" y1="198.63" x2="763.2" y2="224.33" stroke="#e02a36" stroke-width="3.4" stroke-linecap="butt"/>
<line x1="756.7" y1="198.63" x2="769.7" y2="198.63" stroke="#e02a36" stroke-width="3.6" stroke-linecap="round"/>
<line x1="756.7" y1="224.33" x2="769.7" y2="224.33" stroke="#e02a36" stroke-width="3.6" stroke-linecap="round"/>
<circle cx="288" cy="579.6" r="6.5" fill="#e02a36"/>
<circle cx="347.4" cy="570.42" r="6.5" fill="#e02a36"/>
<circle cx="406.8" cy="486.88" r="6.5" fill="#e02a36"/>
<circle cx="466.2" cy="362.95" r="6.5" fill="#e02a36"/>
<circle cx="525.6" cy="293.18" r="6.5" fill="#e02a36"/>
<circle cx="585" cy="262.89" r="6.5" fill="#e02a36"/>
<circle cx="644.4" cy="244.53" r="6.5" fill="#e02a36"/>
<circle cx="703.8" cy="226.17" r="6.5" fill="#e02a36"/>
<circle cx="763.2" cy="211.48" r="6.5" fill="#e02a36"/>
<polyline points="288,582.35 347.4,571.34 406.8,564.91 466.2,558.49 525.6,554.81 585,550.22 644.4,544.26 703.8,541.96 763.2,534.62" fill="none" stroke="#e02a36" stroke-width="3.8" stroke-dasharray="8.5,18.5" stroke-dashoffset="2.25"/>
<polygon points="288,577.55 294.4,587.15 281.6,587.15" fill="#fff" stroke="#e02a36" stroke-width="4.2" stroke-linejoin="round"/>
<polygon points="347.4,566.54 353.8,576.14 341,576.14" fill="#fff" stroke="#e02a36" stroke-width="4.2" stroke-linejoin="round"/>
<polygon points="406.8,560.11 413.2,569.71 400.4,569.71" fill="#fff" stroke="#e02a36" stroke-width="4.2" stroke-linejoin="round"/>
<polygon points="466.2,553.69 472.6,563.29 459.8,563.29" fill="#fff" stroke="#e02a36" stroke-width="4.2" stroke-linejoin="round"/>
<polygon points="525.6,550.01 532,559.61 519.2,559.61" fill="#fff" stroke="#e02a36" stroke-width="4.2" stroke-linejoin="round"/>
<polygon points="585,545.42 591.4,555.02 578.6,555.02" fill="#fff" stroke="#e02a36" stroke-width="4.2" stroke-linejoin="round"/>
<polygon points="644.4,539.46 650.8,549.06 638,549.06" fill="#fff" stroke="#e02a36" stroke-width="4.2" stroke-linejoin="round"/>
<polygon points="703.8,537.16 710.2,546.76 697.4,546.76" fill="#fff" stroke="#e02a36" stroke-width="4.2" stroke-linejoin="round"/>
<polygon points="763.2,529.82 769.6,539.42 756.8,539.42" fill="#fff" stroke="#e02a36" stroke-width="4.2" stroke-linejoin="round"/>
<path d="M811.5,119.7 L804.5,119.7 Q799.5,119.7 799.5,124.7 L799.5,261 Q799.5,266 804.5,266 L811.5,266" fill="none" stroke="#000" stroke-width="3.8" stroke-linecap="round"/>
<line x1="786" y1="193.1" x2="799.5" y2="193.1" stroke="#000" stroke-width="3.8" stroke-linecap="round"/>
<line x1="821.5" y1="126.3" x2="851" y2="126.3" stroke="#3b4a9c" stroke-width="4" stroke-linecap="round"/>
<circle cx="836.3" cy="126.3" r="6.3" fill="#3b4a9c"/>
<text id="l1_0" x="865" y="136" font-size="37.5">Vit. E</text>
<line x1="821.5" y1="161.3" x2="851" y2="161.3" stroke="#b058ad" stroke-width="4" stroke-linecap="round"/>
<circle cx="836.3" cy="161.3" r="6.3" fill="#b058ad"/>
<text id="l1_1" x="865" y="172" font-size="37.5">Fer-1</text>
<line x1="821.5" y1="194.2" x2="851" y2="194.2" stroke="#e02a36" stroke-width="4" stroke-linecap="round"/>
<circle cx="836.3" cy="194.2" r="6.3" fill="#e02a36"/>
<text id="l1_2" x="865" y="210" font-size="37.5">DFO</text>
<line x1="821.5" y1="228.2" x2="851" y2="228.2" stroke="#2fb5a8" stroke-width="4" stroke-linecap="round"/>
<circle cx="836.3" cy="228.2" r="6.3" fill="#2fb5a8"/>
<text id="l1_3" x="865" y="244.2" font-size="37.5">Nec-1s</text>
<line x1="821.5" y1="260" x2="851" y2="260" stroke="#000" stroke-width="4" stroke-linecap="round"/>
<circle cx="836.3" cy="260" r="6.3" fill="#000"/>
<text id="l1_4" x="867.2" y="273.1" font-size="37.5">-</text>
<line x1="991" y1="111.5" x2="991" y2="265.6" stroke="#000" stroke-width="3.8" stroke-linecap="butt"/>
<text id="l1g" x="998.6" y="202" font-size="37.5">GSDME</text>
<path d="M815,350.2 L808.2,350.2 Q803.2,350.2 803.2,355.2 L803.2,570.1 Q803.2,575.1 808.2,575.1 L815,575.1" fill="none" stroke="#000" stroke-width="3.8" stroke-linecap="round"/>
<path d="M803.2,520.4 Q803.2,525.4 791,525.4 Q803.2,525.4 803.2,530.4" fill="none" stroke="#000" stroke-width="3.8" stroke-linecap="round"/>
<line x1="821.5" y1="350.1" x2="851.7" y2="350.1" stroke="#67b846" stroke-width="4" stroke-linecap="round"/>
<circle cx="836.3" cy="350.1" r="6.4" fill="#67b846"/>
<text id="l2_0" x="861.2" y="363" font-size="37.5">EGTA</text>
<text id="l2g" x="1000" y="363.4" font-size="37.5">GSDME</text>
<line x1="821" y1="401.3" x2="830" y2="401.3" stroke="#3b4a9c" stroke-width="3.6" stroke-linecap="round"/>
<line x1="848" y1="401.3" x2="852.5" y2="401.3" stroke="#3b4a9c" stroke-width="3.6" stroke-linecap="round"/>
<polygon points="836.2,395.4 843.45,408.6 828.95,408.6" fill="#fff" stroke="#3b4a9c" stroke-width="3.9" stroke-linejoin="round"/>
<text id="l2_1" x="861.2" y="412.2" font-size="37.5">Vit. E</text>
<line x1="821" y1="433.2" x2="830" y2="433.2" stroke="#b058ad" stroke-width="3.6" stroke-linecap="round"/>
<line x1="848" y1="433.2" x2="852.5" y2="433.2" stroke="#b058ad" stroke-width="3.6" stroke-linecap="round"/>
<polygon points="836.2,427.3 843.45,440.5 828.95,440.5" fill="#fff" stroke="#b058ad" stroke-width="3.9" stroke-linejoin="round"/>
<text id="l2_2" x="861.2" y="447.8" font-size="37.5">Fer-1</text>
<line x1="821" y1="470.6" x2="830" y2="470.6" stroke="#e02a36" stroke-width="3.6" stroke-linecap="round"/>
<line x1="848" y1="470.6" x2="852.5" y2="470.6" stroke="#e02a36" stroke-width="3.6" stroke-linecap="round"/>
<polygon points="836.2,464.7 843.45,477.9 828.95,477.9" fill="#fff" stroke="#e02a36" stroke-width="3.9" stroke-linejoin="round"/>
<text id="l2_3" x="861.2" y="484.3" font-size="37.5">DFO</text>
<line x1="821" y1="501.4" x2="830" y2="501.4" stroke="#2fb5a8" stroke-width="3.6" stroke-linecap="round"/>
<line x1="848" y1="501.4" x2="852.5" y2="501.4" stroke="#2fb5a8" stroke-width="3.6" stroke-linecap="round"/>
<polygon points="836.2,495.5 843.45,508.7 828.95,508.7" fill="#fff" stroke="#2fb5a8" stroke-width="3.9" stroke-linejoin="round"/>
<text id="l2_4" x="861.2" y="520.3" font-size="37.5">Nec-1s</text>
<line x1="821" y1="540" x2="830" y2="540" stroke="#000" stroke-width="3.6" stroke-linecap="round"/>
<line x1="848" y1="540" x2="852.5" y2="540" stroke="#000" stroke-width="3.6" stroke-linecap="round"/>
<polygon points="836.2,534.1 843.45,547.3 828.95,547.3" fill="#fff" stroke="#000" stroke-width="3.9" stroke-linejoin="round"/>
<text id="l2_5" x="861.2" y="551.7" font-size="37.5">-</text>
<line x1="821" y1="571.3" x2="830" y2="571.3" stroke="#67b846" stroke-width="3.6" stroke-linecap="round"/>
<line x1="848" y1="571.3" x2="852.5" y2="571.3" stroke="#67b846" stroke-width="3.6" stroke-linecap="round"/>
<polygon points="836.2,565.4 843.45,578.6 828.95,578.6" fill="#fff" stroke="#67b846" stroke-width="3.9" stroke-linejoin="round"/>
<text id="l2_6" x="861.2" y="585.4" font-size="37.5">EGTA</text>
<line x1="991.3" y1="387.4" x2="991.3" y2="580.2" stroke="#000" stroke-width="3.8" stroke-linecap="butt"/>
<text id="l2ev" x="1004.1" y="514.1" font-size="37.5">EV</text>
<line x1="258.5" y1="743.6" x2="258.5" y2="1139.4" stroke="#000" stroke-width="4.0" stroke-linecap="butt"/>
<line x1="256.5" y1="1137.4" x2="701" y2="1137.4" stroke="#000" stroke-width="4.0" stroke-linecap="butt"/>
<line x1="243.4" y1="745.2" x2="258.5" y2="745.2" stroke="#000" stroke-width="4.0" stroke-linecap="butt"/>
<line x1="243.4" y1="875.9" x2="258.5" y2="875.9" stroke="#000" stroke-width="4.0" stroke-linecap="butt"/>
<line x1="243.4" y1="1006.6" x2="258.5" y2="1006.6" stroke="#000" stroke-width="4.0" stroke-linecap="butt"/>
<line x1="243.4" y1="1137.4" x2="258.5" y2="1137.4" stroke="#000" stroke-width="4.0" stroke-linecap="butt"/>
<text id="by0" x="159.7" y="761.9" font-size="37.8">0.03</text>
<text id="by1" x="159.7" y="887.1" font-size="37.8">0.02</text>
<text id="by2" x="159.7" y="1020.5" font-size="37.8">0.01</text>
<text id="by3" x="164.1" y="1153.9" font-size="37.8">0.00</text>
<line x1="302.5" y1="1137.4" x2="302.5" y2="1151.5" stroke="#000" stroke-width="4.0" stroke-linecap="butt"/>
<line x1="390.4" y1="1137.4" x2="390.4" y2="1151.5" stroke="#000" stroke-width="4.0" stroke-linecap="butt"/>
<line x1="479" y1="1137.4" x2="479" y2="1151.5" stroke="#000" stroke-width="4.0" stroke-linecap="butt"/>
<line x1="568" y1="1137.4" x2="568" y2="1151.5" stroke="#000" stroke-width="4.0" stroke-linecap="butt"/>
<line x1="657" y1="1137.4" x2="657" y2="1151.5" stroke="#000" stroke-width="4.0" stroke-linecap="butt"/>
<rect x="627.9" y="811.4" width="58.4" height="326" fill="#fff" stroke="#000" stroke-width="3.6"/>
<circle cx="287.2" cy="1137.4" r="9" fill="#000"/>
<circle cx="302.5" cy="1137.4" r="9" fill="#000"/>
<circle cx="317.5" cy="1137.4" r="9" fill="#000"/>
<circle cx="375.4" cy="1137.4" r="9" fill="#000"/>
<circle cx="390.4" cy="1137.4" r="9" fill="#000"/>
<circle cx="405.4" cy="1137.4" r="9" fill="#000"/>
<circle cx="464" cy="1137.4" r="9" fill="#000"/>
<circle cx="479" cy="1137.4" r="9" fill="#000"/>
<circle cx="494" cy="1137.4" r="9" fill="#000"/>
<circle cx="553" cy="1137.4" r="9" fill="#000"/>
<circle cx="568" cy="1137.4" r="9" fill="#000"/>
<circle cx="583" cy="1137.4" r="9" fill="#000"/>
<circle cx="641.8" cy="810.7" r="9" fill="#000"/>
<circle cx="656.8" cy="812.8" r="9" fill="#000"/>
<circle cx="672.1" cy="810.7" r="9" fill="#000"/>
<text id="bc0" x="0" y="0" font-size="39.33" text-anchor="end" transform="translate(311,1174.15) rotate(-45)">B16-F10</text>
<text id="bc1" x="0" y="0" font-size="39.61" text-anchor="end" transform="translate(408.4,1174.65) rotate(-45)">CT26</text>
<text id="bc2" x="0" y="0" font-size="39.23" text-anchor="end" transform="translate(498.25,1174.65) rotate(-45)">EMT6</text>
<text id="bc3" x="0" y="0" font-size="38.68" text-anchor="end" transform="translate(584.5,1175.15) rotate(-45)">4T1E</text>
<text id="bc4" x="0" y="0" font-size="39.97" text-anchor="end" transform="translate(673,1174.9) rotate(-45)">L929</text>
<text id="bL" x="5.35" y="772.35" font-size="47" font-weight="bold">b</text>
<text id="bt0" x="0" y="0" font-size="38.22" text-anchor="middle" transform="translate(93.7,921.1) rotate(-90)"><tspan font-style="italic">Ripk3</tspan> mRNA,</text>
<text id="bt1" x="0" y="0" font-size="38.57" text-anchor="middle" transform="translate(140.3,922.1) rotate(-90)">relative to <tspan font-style="italic">Gapdh</tspan></text>
<line x1="1056.2" y1="792.7" x2="1056.2" y2="1139.8" stroke="#000" stroke-width="4.0" stroke-linecap="butt"/>
<line x1="1054.2" y1="1137.8" x2="1398.4" y2="1137.8" stroke="#000" stroke-width="4.0" stroke-linecap="butt"/>
<line x1="1043.4" y1="794.5" x2="1056.2" y2="794.5" stroke="#000" stroke-width="4.0" stroke-linecap="butt"/>
<line x1="1043.4" y1="880.3" x2="1056.2" y2="880.3" stroke="#000" stroke-width="4.0" stroke-linecap="butt"/>
<line x1="1043.4" y1="966.6" x2="1056.2" y2="966.6" stroke="#000" stroke-width="4.0" stroke-linecap="butt"/>
<line x1="1043.4" y1="1052.9" x2="1056.2" y2="1052.9" stroke="#000" stroke-width="4.0" stroke-linecap="butt"/>
<line x1="1043.4" y1="1137.8" x2="1056.2" y2="1137.8" stroke="#000" stroke-width="4.0" stroke-linecap="butt"/>
<text id="cy0" x="943.5" y="807.5" font-size="37.3">0.008</text>
<text id="cy1" x="943.5" y="890.3" font-size="37.3">0.006</text>
<text id="cy2" x="943.5" y="980.3" font-size="37.3">0.004</text>
<text id="cy3" x="943.5" y="1067.3" font-size="37.3">0.002</text>
<text id="cy4" x="943.5" y="1150.1" font-size="37.3">0.000</text>
<line x1="1098.9" y1="1137.8" x2="1098.9" y2="1150.5" stroke="#000" stroke-width="4.0" stroke-linecap="butt"/>
<line x1="1184.6" y1="1137.8" x2="1184.6" y2="1150.5" stroke="#000" stroke-width="4.0" stroke-linecap="butt"/>
<line x1="1270" y1="1137.8" x2="1270" y2="1150.5" stroke="#000" stroke-width="4.0" stroke-linecap="butt"/>
<line x1="1355.8" y1="1137.8" x2="1355.8" y2="1150.5" stroke="#000" stroke-width="4.0" stroke-linecap="butt"/>
<rect x="1328" y="887.4" width="56.5" height="250.4" fill="#fff" stroke="#000" stroke-width="3.6"/>
<line x1="1356" y1="883" x2="1356" y2="889" stroke="#000" stroke-width="3.6" stroke-linecap="butt"/>
<line x1="1343" y1="883" x2="1369" y2="883" stroke="#000" stroke-width="3.8" stroke-linecap="round"/>
<line x1="1343" y1="889" x2="1369" y2="889" stroke="#000" stroke-width="3.8" stroke-linecap="round"/>
<circle cx="1082.6" cy="1136.6" r="7.4" fill="#000"/>
<circle cx="1098.9" cy="1136.6" r="7.4" fill="#000"/>
<circle cx="1115.7" cy="1136.6" r="7.4" fill="#000"/>
<circle cx="1167.8" cy="1137.8" r="7.4" fill="#000"/>
<circle cx="1184.6" cy="1137.8" r="7.4" fill="#000"/>
<circle cx="1201.6" cy="1137.8" r="7.4" fill="#000"/>
<circle cx="1253.5" cy="1137.8" r="7.4" fill="#000"/>
<circle cx="1270" cy="1137.8" r="7.4" fill="#000"/>
<circle cx="1286.8" cy="1137.8" r="7.4" fill="#000"/>
<circle cx="1339.3" cy="882" r="7.4" fill="#000"/>
<circle cx="1356.2" cy="891.7" r="7.4" fill="#000"/>
<circle cx="1372.8" cy="891.7" r="7.4" fill="#000"/>
<text id="cc0" x="0" y="0" font-size="37.6" text-anchor="end" transform="translate(1115.15,1169.05) rotate(-45)">HeLa</text>
<text id="cc1" x="0" y="0" font-size="37.04" text-anchor="end" transform="translate(1191.85,1177.55) rotate(-45)">SH-SY5Y</text>
<text id="cc2" x="0" y="0" font-size="36.61" text-anchor="end" transform="translate(1282.25,1181.3) rotate(-45)">HEK293T</text>
<text id="cc3" x="0" y="0" font-size="38.4" text-anchor="end" transform="translate(1367.55,1174.05) rotate(-45)">HT-29</text>
<text id="cL" x="826.9" y="771.8" font-size="47" font-weight="bold">c</text>
<text id="ct0" x="0" y="0" font-size="38.38" text-anchor="middle" transform="translate(883.3,978.8) rotate(-90)"><tspan font-style="italic">RIPK3</tspan> mRNA,</text>
<text id="ct1" x="0" y="0" font-size="38.79" text-anchor="middle" transform="translate(929.5,966) rotate(-90)">relative to <tspan font-style="italic">GAPDH</tspan></text>
<line x1="265.2" y1="1354" x2="265.2" y2="1725.6" stroke="#000" stroke-width="4.0" stroke-linecap="butt"/>
<line x1="263.2" y1="1723.6" x2="656.9" y2="1723.6" stroke="#000" stroke-width="4.0" stroke-linecap="butt"/>
<line x1="252.4" y1="1356.2" x2="265.2" y2="1356.2" stroke="#000" stroke-width="4.0" stroke-linecap="butt"/>
<line x1="252.4" y1="1447.7" x2="265.2" y2="1447.7" stroke="#000" stroke-width="4.0" stroke-linecap="butt"/>
<line x1="252.4" y1="1539.3" x2="265.2" y2="1539.3" stroke="#000" stroke-width="4.0" stroke-linecap="butt"/>
<line x1="252.4" y1="1631.2" x2="265.2" y2="1631.2" stroke="#000" stroke-width="4.0" stroke-linecap="butt"/>
<line x1="252.4" y1="1723.6" x2="265.2" y2="1723.6" stroke="#000" stroke-width="4.0" stroke-linecap="butt"/>
<text id="dy0" x="150.5" y="1377.3" font-size="37">0.020</text>
<text id="dy1" x="150.7" y="1465.1" font-size="37">0.015</text>
<text id="dy2" x="150.7" y="1554.1" font-size="37">0.010</text>
<text id="dy3" x="150.5" y="1642.3" font-size="37">0.005</text>
<text id="dy4" x="150.5" y="1730.5" font-size="37">0.000</text>
<line x1="303.4" y1="1723.6" x2="303.4" y2="1735.5" stroke="#000" stroke-width="4.0" stroke-linecap="butt"/>
<line x1="382.2" y1="1723.6" x2="382.2" y2="1735.5" stroke="#000" stroke-width="4.0" stroke-linecap="butt"/>
<line x1="460.4" y1="1723.6" x2="460.4" y2="1735.5" stroke="#000" stroke-width="4.0" stroke-linecap="butt"/>
<line x1="539" y1="1723.6" x2="539" y2="1735.5" stroke="#000" stroke-width="4.0" stroke-linecap="butt"/>
<line x1="617.5" y1="1723.6" x2="617.5" y2="1735.5" stroke="#000" stroke-width="4.0" stroke-linecap="butt"/>
<rect x="278.8" y="1711.5" width="50.9" height="12.1" fill="#fff" stroke="#000" stroke-width="3.6"/>
<rect x="357.3" y="1676.3" width="50" height="47.3" fill="#fff" stroke="#000" stroke-width="3.6"/>
<rect x="435.9" y="1642.9" width="50" height="80.7" fill="#fff" stroke="#000" stroke-width="3.6"/>
<rect x="514.4" y="1671.5" width="49.9" height="52.1" fill="#fff" stroke="#000" stroke-width="3.6"/>
<rect x="591.5" y="1444.5" width="52.2" height="279.1" fill="#fff" stroke="#000" stroke-width="3.6"/>
<line x1="617.5" y1="1410" x2="617.5" y2="1479.7" stroke="#000" stroke-width="3.6" stroke-linecap="butt"/>
<line x1="604.8" y1="1410" x2="630.2" y2="1410" stroke="#000" stroke-width="3.8" stroke-linecap="round"/>
<line x1="604.8" y1="1479.7" x2="630.2" y2="1479.7" stroke="#000" stroke-width="3.8" stroke-linecap="round"/>
<line x1="460.5" y1="1637" x2="460.5" y2="1648" stroke="#000" stroke-width="3.6" stroke-linecap="butt"/>
<line x1="448.5" y1="1637" x2="472.5" y2="1637" stroke="#000" stroke-width="3.8" stroke-linecap="round"/>
<line x1="448.5" y1="1648" x2="472.5" y2="1648" stroke="#000" stroke-width="3.8" stroke-linecap="round"/>
<line x1="382.2" y1="1673" x2="382.2" y2="1679" stroke="#000" stroke-width="3.6" stroke-linecap="butt"/>
<line x1="371.2" y1="1673" x2="393.2" y2="1673" stroke="#000" stroke-width="3.8" stroke-linecap="round"/>
<line x1="371.2" y1="1679" x2="393.2" y2="1679" stroke="#000" stroke-width="3.8" stroke-linecap="round"/>
<line x1="539" y1="1667" x2="539" y2="1674" stroke="#000" stroke-width="3.6" stroke-linecap="butt"/>
<line x1="528" y1="1667" x2="550" y2="1667" stroke="#000" stroke-width="3.8" stroke-linecap="round"/>
<line x1="528" y1="1674" x2="550" y2="1674" stroke="#000" stroke-width="3.8" stroke-linecap="round"/>
<line x1="304" y1="1707" x2="304" y2="1712" stroke="#000" stroke-width="3.6" stroke-linecap="butt"/>
<line x1="295" y1="1707" x2="313" y2="1707" stroke="#000" stroke-width="3.8" stroke-linecap="round"/>
<line x1="295" y1="1712" x2="313" y2="1712" stroke="#000" stroke-width="3.8" stroke-linecap="round"/>
<circle cx="290" cy="1705.5" r="7.4" fill="#000"/>
<circle cx="304.3" cy="1714" r="7.4" fill="#000"/>
<circle cx="318.5" cy="1709.8" r="7.4" fill="#000"/>
<circle cx="368.5" cy="1670.6" r="7.4" fill="#000"/>
<circle cx="382.2" cy="1679.8" r="7.4" fill="#000"/>
<circle cx="396.5" cy="1676" r="7.4" fill="#000"/>
<circle cx="447" cy="1634" r="7.4" fill="#000"/>
<circle cx="460.7" cy="1649.2" r="7.4" fill="#000"/>
<circle cx="474" cy="1639.8" r="7.4" fill="#000"/>
<circle cx="525.5" cy="1664" r="7.4" fill="#000"/>
<circle cx="539" cy="1675" r="7.4" fill="#000"/>
<circle cx="552.6" cy="1669.8" r="7.4" fill="#000"/>
<circle cx="617.5" cy="1407.7" r="7.4" fill="#000"/>
<circle cx="617.4" cy="1449.4" r="7.4" fill="#000"/>
<circle cx="617.4" cy="1476.8" r="7.4" fill="#000"/>
<text id="dc0" x="0" y="0" font-size="38.67" text-anchor="end" transform="translate(315.9,1759.1) rotate(-45)">B16-F10</text>
<text id="dc1" x="0" y="0" font-size="39.65" text-anchor="end" transform="translate(395.7,1757.85) rotate(-45)">CT26</text>
<text id="dc2" x="0" y="0" font-size="38.64" text-anchor="end" transform="translate(478.4,1759.85) rotate(-45)">EMT6</text>
<text id="dc3" x="0" y="0" font-size="39.47" text-anchor="end" transform="translate(551.75,1757.85) rotate(-45)">4T1E</text>
<text id="dc4" x="0" y="0" font-size="39.11" text-anchor="end" transform="translate(625,1760.85) rotate(-45)">L929</text>
<text id="dL" x="5.45" y="1318.65" font-size="47" font-weight="bold">d</text>
<text id="dt0" x="0" y="0" font-size="39.18" text-anchor="middle" transform="translate(82.5,1550.2) rotate(-90)"><tspan font-style="italic">Mlkl</tspan> mRNA,</text>
<text id="dt1" x="0" y="0" font-size="39.03" text-anchor="middle" transform="translate(128.4,1549.1) rotate(-90)">relative to <tspan font-style="italic">Gapdh</tspan></text>
<line x1="1051.2" y1="1417.5" x2="1051.2" y2="1741.7" stroke="#000" stroke-width="4.0" stroke-linecap="butt"/>
<line x1="1049.2" y1="1739.7" x2="1375.1" y2="1739.7" stroke="#000" stroke-width="4.0" stroke-linecap="butt"/>
<line x1="1039.4" y1="1419.1" x2="1051.2" y2="1419.1" stroke="#000" stroke-width="4.0" stroke-linecap="butt"/>
<line x1="1039.4" y1="1525" x2="1051.2" y2="1525" stroke="#000" stroke-width="4.0" stroke-linecap="butt"/>
<line x1="1039.4" y1="1633" x2="1051.2" y2="1633" stroke="#000" stroke-width="4.0" stroke-linecap="butt"/>
<line x1="1039.4" y1="1739.7" x2="1051.2" y2="1739.7" stroke="#000" stroke-width="4.0" stroke-linecap="butt"/>
<text id="ey0" x="941.1" y="1429.1" font-size="37">0.015</text>
<text id="ey1" x="941.1" y="1536.3" font-size="37">0.010</text>
<text id="ey2" x="941.1" y="1643.1" font-size="37">0.005</text>
<text id="ey3" x="941.1" y="1751.3" font-size="37">0.000</text>
<line x1="1091.2" y1="1739.7" x2="1091.2" y2="1751.3" stroke="#000" stroke-width="4.0" stroke-linecap="butt"/>
<line x1="1171.8" y1="1739.7" x2="1171.8" y2="1751.3" stroke="#000" stroke-width="4.0" stroke-linecap="butt"/>
<line x1="1253.8" y1="1739.7" x2="1253.8" y2="1751.3" stroke="#000" stroke-width="4.0" stroke-linecap="butt"/>
<line x1="1335.2" y1="1739.7" x2="1335.2" y2="1751.3" stroke="#000" stroke-width="4.0" stroke-linecap="butt"/>
<rect x="1064.7" y="1487.7" width="53.9" height="252" fill="#fff" stroke="#000" stroke-width="3.6"/>
<rect x="1144.2" y="1716.8" width="55.4" height="22.9" fill="#fff" stroke="#000" stroke-width="3.6"/>
<rect x="1308" y="1503.1" width="54.8" height="236.6" fill="#fff" stroke="#000" stroke-width="3.6"/>
<line x1="1091.2" y1="1462.9" x2="1091.2" y2="1511.1" stroke="#000" stroke-width="3.6" stroke-linecap="butt"/>
<line x1="1078.5" y1="1462.9" x2="1103.9" y2="1462.9" stroke="#000" stroke-width="3.8" stroke-linecap="round"/>
<line x1="1078.5" y1="1511.1" x2="1103.9" y2="1511.1" stroke="#000" stroke-width="3.8" stroke-linecap="round"/>
<line x1="1335.5" y1="1488.8" x2="1335.5" y2="1508" stroke="#000" stroke-width="3.6" stroke-linecap="butt"/>
<line x1="1322.8" y1="1488.8" x2="1348.2" y2="1488.8" stroke="#000" stroke-width="3.8" stroke-linecap="round"/>
<line x1="1322.8" y1="1508" x2="1348.2" y2="1508" stroke="#000" stroke-width="3.8" stroke-linecap="round"/>
<circle cx="1079.4" cy="1470.6" r="7.5" fill="#000"/>
<circle cx="1103.7" cy="1475.3" r="7.5" fill="#000"/>
<circle cx="1091.2" cy="1514.9" r="7.5" fill="#000"/>
<circle cx="1335.5" cy="1484.8" r="7.5" fill="#000"/>
<circle cx="1323.3" cy="1511.8" r="7.5" fill="#000"/>
<circle cx="1347.3" cy="1511.8" r="7.5" fill="#000"/>
<circle cx="1157.2" cy="1716.1" r="7.5" fill="#000"/>
<circle cx="1172.5" cy="1718" r="7.5" fill="#000"/>
<circle cx="1187.8" cy="1716.8" r="7.5" fill="#000"/>
<circle cx="1238.5" cy="1739.7" r="7.5" fill="#000"/>
<circle cx="1253.8" cy="1739.7" r="7.5" fill="#000"/>
<circle cx="1269.1" cy="1739.7" r="7.5" fill="#000"/>
<text id="ec0" x="0" y="0" font-size="34.93" text-anchor="end" transform="translate(1094.2,1772.95) rotate(-45)">HeLa</text>
<text id="ec1" x="0" y="0" font-size="37.04" text-anchor="end" transform="translate(1182.05,1772.95) rotate(-45)">SH-SY5Y</text>
<text id="ec2" x="0" y="0" font-size="36.94" text-anchor="end" transform="translate(1269.05,1774.45) rotate(-45)">HEK293T</text>
<text id="ec3" x="0" y="0" font-size="37.46" text-anchor="end" transform="translate(1347.95,1769.95) rotate(-45)">HT-29</text>
<text id="eL" x="827.7" y="1318.4" font-size="47" font-weight="bold">e</text>
<text id="et0" x="0" y="0" font-size="38.05" text-anchor="middle" transform="translate(875.5,1556.7) rotate(-90)"><tspan font-style="italic">MLKL</tspan> mRNA,</text>
<text id="et1" x="0" y="0" font-size="38.79" text-anchor="middle" transform="translate(920.7,1559.2) rotate(-90)">relative to <tspan font-style="italic">GAPDH</tspan></text>
<line x1="272.3" y1="1918.6" x2="272.3" y2="2305" stroke="#000" stroke-width="4.0" stroke-linecap="butt"/>
<line x1="270.3" y1="2303" x2="669.2" y2="2303" stroke="#000" stroke-width="4.0" stroke-linecap="butt"/>
<line x1="257.5" y1="1920.7" x2="272.3" y2="1920.7" stroke="#000" stroke-width="4.0" stroke-linecap="butt"/>
<line x1="257.5" y1="2015.9" x2="272.3" y2="2015.9" stroke="#000" stroke-width="4.0" stroke-linecap="butt"/>
<line x1="257.5" y1="2111.8" x2="272.3" y2="2111.8" stroke="#000" stroke-width="4.0" stroke-linecap="butt"/>
<line x1="257.5" y1="2207.7" x2="272.3" y2="2207.7" stroke="#000" stroke-width="4.0" stroke-linecap="butt"/>
<line x1="257.5" y1="2303" x2="272.3" y2="2303" stroke="#000" stroke-width="4.0" stroke-linecap="butt"/>
<text id="fy0" x="95.9" y="1935.3" font-size="36.8">0.000008</text>
<text id="fy1" x="95.9" y="2031.7" font-size="36.8">0.000006</text>
<text id="fy2" x="95.9" y="2126.1" font-size="36.8">0.000004</text>
<text id="fy3" x="95.9" y="2220.5" font-size="36.8">0.000002</text>
<text id="fy4" x="95.9" y="2316.5" font-size="36.8">0.000000</text>
<line x1="311.4" y1="2303" x2="311.4" y2="2315.7" stroke="#000" stroke-width="4.0" stroke-linecap="butt"/>
<line x1="390.4" y1="2303" x2="390.4" y2="2315.7" stroke="#000" stroke-width="4.0" stroke-linecap="butt"/>
<line x1="469.8" y1="2303" x2="469.8" y2="2315.7" stroke="#000" stroke-width="4.0" stroke-linecap="butt"/>
<line x1="550.3" y1="2303" x2="550.3" y2="2315.7" stroke="#000" stroke-width="4.0" stroke-linecap="butt"/>
<line x1="630" y1="2303" x2="630" y2="2315.7" stroke="#000" stroke-width="4.0" stroke-linecap="butt"/>
<rect x="523.8" y="2092.7" width="52.7" height="210.3" fill="#fff" stroke="#000" stroke-width="3.6"/>
<rect x="603.5" y="2016.9" width="53.3" height="286.1" fill="#fff" stroke="#000" stroke-width="3.6"/>
<line x1="550.1" y1="2054.2" x2="550.1" y2="2130" stroke="#000" stroke-width="3.6" stroke-linecap="butt"/>
<line x1="537.6" y1="2054.2" x2="562.6" y2="2054.2" stroke="#000" stroke-width="3.8" stroke-linecap="round"/>
<line x1="537.6" y1="2130" x2="562.6" y2="2130" stroke="#000" stroke-width="3.8" stroke-linecap="round"/>
<line x1="629.8" y1="1990.6" x2="629.8" y2="2043.2" stroke="#000" stroke-width="3.6" stroke-linecap="butt"/>
<line x1="617.3" y1="1990.6" x2="642.3" y2="1990.6" stroke="#000" stroke-width="3.8" stroke-linecap="round"/>
<line x1="617.3" y1="2043.2" x2="642.3" y2="2043.2" stroke="#000" stroke-width="3.8" stroke-linecap="round"/>
<circle cx="296.4" cy="2303" r="7.1" fill="#000"/>
<circle cx="311.4" cy="2303" r="7.1" fill="#000"/>
<circle cx="326.4" cy="2303" r="7.1" fill="#000"/>
<circle cx="375.4" cy="2303" r="7.1" fill="#000"/>
<circle cx="390.4" cy="2303" r="7.1" fill="#000"/>
<circle cx="405.4" cy="2303" r="7.1" fill="#000"/>
<circle cx="454.8" cy="2303" r="7.1" fill="#000"/>
<circle cx="469.8" cy="2303" r="7.1" fill="#000"/>
<circle cx="484.8" cy="2303" r="7.1" fill="#000"/>
<circle cx="538.5" cy="2061.2" r="7.1" fill="#000"/>
<circle cx="561.7" cy="2080.5" r="7.1" fill="#000"/>
<circle cx="550.1" cy="2135.1" r="7.1" fill="#000"/>
<circle cx="618.2" cy="1998.9" r="7.1" fill="#000"/>
<circle cx="642" cy="2004.7" r="7.1" fill="#000"/>
<circle cx="629.8" cy="2047.1" r="7.1" fill="#000"/>
<text id="fc0" x="0" y="0" font-size="38.13" text-anchor="end" transform="translate(329.15,2339.75) rotate(-45)">B16-F10</text>
<text id="fc1" x="0" y="0" font-size="38.43" text-anchor="end" transform="translate(401.4,2341) rotate(-45)">CT26</text>
<text id="fc2" x="0" y="0" font-size="38.14" text-anchor="end" transform="translate(490.8,2340.5) rotate(-45)">EMT6</text>
<text id="fc3" x="0" y="0" font-size="38.33" text-anchor="end" transform="translate(566.3,2339.5) rotate(-45)">4T1E</text>
<text id="fc4" x="0" y="0" font-size="38.17" text-anchor="end" transform="translate(640.5,2341) rotate(-45)">iBMDM</text>
<text id="fL" x="5.45" y="1897.75" font-size="47" font-weight="bold">f</text>
<text id="ft0" x="0" y="0" font-size="37.1" text-anchor="middle" transform="translate(36,2107.8) rotate(-90)"><tspan font-style="italic">Il1b</tspan> mRNA,</text>
<text id="ft1" x="0" y="0" font-size="37.64" text-anchor="middle" transform="translate(81.2,2111.9) rotate(-90)">relative to <tspan font-style="italic">Gapdh</tspan></text>
<line x1="1056.6" y1="2005.2" x2="1056.6" y2="2308" stroke="#000" stroke-width="4.0" stroke-linecap="butt"/>
<line x1="1054.6" y1="2306" x2="1381.7" y2="2306" stroke="#000" stroke-width="4.0" stroke-linecap="butt"/>
<line x1="1044.5" y1="2007.5" x2="1056.6" y2="2007.5" stroke="#000" stroke-width="4.0" stroke-linecap="butt"/>
<line x1="1044.5" y1="2081.7" x2="1056.6" y2="2081.7" stroke="#000" stroke-width="4.0" stroke-linecap="butt"/>
<line x1="1044.5" y1="2156.4" x2="1056.6" y2="2156.4" stroke="#000" stroke-width="4.0" stroke-linecap="butt"/>
<line x1="1044.5" y1="2231.1" x2="1056.6" y2="2231.1" stroke="#000" stroke-width="4.0" stroke-linecap="butt"/>
<line x1="1044.5" y1="2306" x2="1056.6" y2="2306" stroke="#000" stroke-width="4.0" stroke-linecap="butt"/>
<text id="gy0" x="986.7" y="2017.3" font-size="36.5">0.4</text>
<text id="gy1" x="986.7" y="2093.3" font-size="36.5">0.3</text>
<text id="gy2" x="986.7" y="2167.3" font-size="36.5">0.2</text>
<text id="gy3" x="986.7" y="2241.1" font-size="36.5">0.1</text>
<text id="gy4" x="986.7" y="2314.5" font-size="36.5">0.0</text>
<line x1="1096.8" y1="2306" x2="1096.8" y2="2316.8" stroke="#000" stroke-width="4.0" stroke-linecap="butt"/>
<line x1="1178.2" y1="2306" x2="1178.2" y2="2316.8" stroke="#000" stroke-width="4.0" stroke-linecap="butt"/>
<line x1="1260.4" y1="2306" x2="1260.4" y2="2316.8" stroke="#000" stroke-width="4.0" stroke-linecap="butt"/>
<line x1="1342.3" y1="2306" x2="1342.3" y2="2316.8" stroke="#000" stroke-width="4.0" stroke-linecap="butt"/>
<rect x="1314.6" y="2058.4" width="54.6" height="247.6" fill="#fff" stroke="#000" stroke-width="3.6"/>
<rect x="1150" y="2300.5" width="57.299999999999955" height="3.5" fill="#b4b4b4"/>
<line x1="1341.8" y1="2040" x2="1341.8" y2="2076" stroke="#000" stroke-width="3.6" stroke-linecap="butt"/>
<line x1="1328.9" y1="2040" x2="1354.7" y2="2040" stroke="#000" stroke-width="3.8" stroke-linecap="round"/>
<line x1="1328.9" y1="2076" x2="1354.7" y2="2076" stroke="#000" stroke-width="3.8" stroke-linecap="round"/>
<circle cx="1081.4" cy="2306" r="7.1" fill="#000"/>
<circle cx="1096.8" cy="2306" r="7.1" fill="#000"/>
<circle cx="1113.1" cy="2306" r="7.1" fill="#000"/>
<circle cx="1162.8" cy="2302.3" r="7.1" fill="#000"/>
<circle cx="1178.2" cy="2302.3" r="7.1" fill="#000"/>
<circle cx="1194.5" cy="2302.3" r="7.1" fill="#000"/>
<circle cx="1244.2" cy="2306" r="7.1" fill="#000"/>
<circle cx="1260.4" cy="2306" r="7.1" fill="#000"/>
<circle cx="1276.7" cy="2306" r="7.1" fill="#000"/>
<circle cx="1341.4" cy="2040.7" r="7.1" fill="#000"/>
<circle cx="1352.8" cy="2055" r="7.1" fill="#000"/>
<circle cx="1330.3" cy="2076.7" r="7.1" fill="#000"/>
<text id="gc0" x="0" y="0" font-size="36.65" text-anchor="end" transform="translate(1101.05,2336.75) rotate(-45)">HeLa</text>
<text id="gc1" x="0" y="0" font-size="36.77" text-anchor="end" transform="translate(1185.45,2343.5) rotate(-45)">SH-SY5Y</text>
<text id="gc2" x="0" y="0" font-size="36.79" text-anchor="end" transform="translate(1275.9,2344.5) rotate(-45)">HEK293T</text>
<text id="gc3" x="0" y="0" font-size="35.82" text-anchor="end" transform="translate(1360.3,2346.75) rotate(-45)">THP1</text>
<text id="gL" x="826.05" y="1897.5" font-size="47" font-weight="bold">g</text>
<text id="gt0" x="0" y="0" font-size="37.56" text-anchor="middle" transform="translate(930.1,2148.5) rotate(-90)"><tspan font-style="italic">IL1B</tspan> mRNA,</text>
<text id="gt1" x="0" y="0" font-size="38.92" text-anchor="middle" transform="translate(977,2158.6) rotate(-90)">relative to <tspan font-style="italic">GAPDH</tspan></text>
</svg></body></html>
